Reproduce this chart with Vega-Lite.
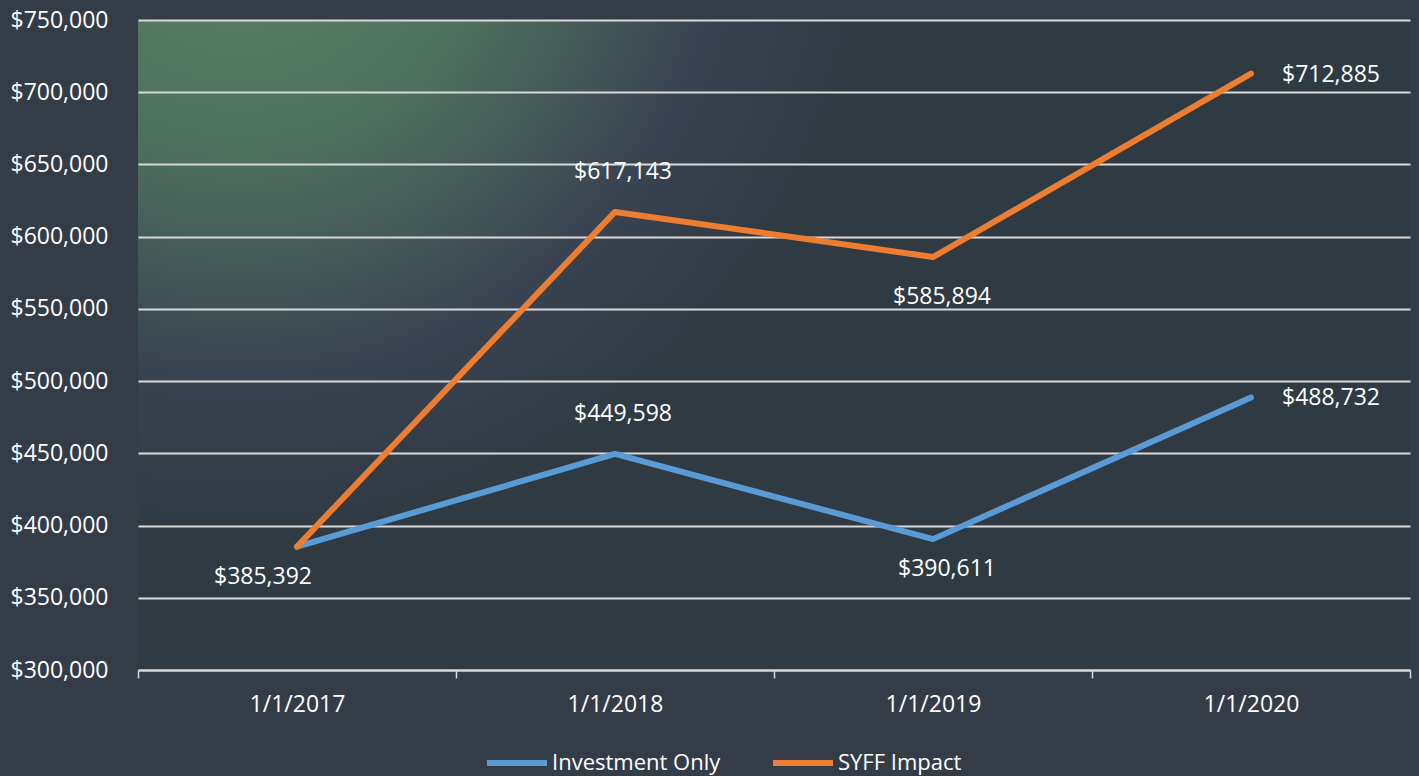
{
  "$schema": "https://vega.github.io/schema/vega-lite/v6.json",
  "width": 1272,
  "height": 650,
  "autosize": {"type": "none"},
  "padding": {"left": 138, "top": 20, "right": 9, "bottom": 106},
  "background": "#343c48",
  "config": {
    "font": "Open Sans",
    "view": {
      "stroke": null,
      "fill": {
        "gradient": "radial",
        "x1": 0.08, "y1": 0.15, "r1": 0,
        "x2": 0.08, "y2": 0.15, "r2": 0.5,
        "stops": [
          {"offset": 0, "color": "#5a8563"},
          {"offset": 0.4, "color": "#4e705f"},
          {"offset": 0.75, "color": "#3a4351"},
          {"offset": 1, "color": "#2f3a43"}
        ]
      }
    }
  },
  "data": {
    "values": [
      {"date": "1/1/2017", "series": "Investment Only", "value": 385392},
      {"date": "1/1/2018", "series": "Investment Only", "value": 449598},
      {"date": "1/1/2019", "series": "Investment Only", "value": 390611},
      {"date": "1/1/2020", "series": "Investment Only", "value": 488732},
      {"date": "1/1/2017", "series": "SYFF Impact", "value": 385392},
      {"date": "1/1/2018", "series": "SYFF Impact", "value": 617143},
      {"date": "1/1/2019", "series": "SYFF Impact", "value": 585894},
      {"date": "1/1/2020", "series": "SYFF Impact", "value": 712885}
    ]
  },
  "encoding": {
    "x": {
      "field": "date",
      "type": "ordinal",
      "bandPosition": 0.5,
      "scale": {"type": "band", "paddingInner": 0, "paddingOuter": 0},
      "axis": {
        "title": null,
        "labelAngle": 0,
        "tickBand": "extent",
        "ticks": true,
        "tickSize": 8,
        "tickColor": "#d9d9d9",
        "tickWidth": 1.5,
        "domainColor": "#d9d9d9",
        "domainWidth": 2,
        "labelColor": "#ffffff",
        "labelFontSize": 23,
        "labelPadding": 15,
        "grid": false
      }
    },
    "y": {
      "field": "value",
      "type": "quantitative",
      "scale": {"domain": [300000, 750000], "nice": false, "zero": false},
      "axis": {
        "title": null,
        "values": [300000, 350000, 400000, 450000, 500000, 550000, 600000, 650000, 700000, 750000],
        "format": "$,.0f",
        "grid": true,
        "gridColor": "#d9d9d9",
        "gridWidth": 2,
        "domain": false,
        "ticks": false,
        "tickSize": 0,
        "labelPadding": 30,
        "labelFontSize": 23,
        "labelColor": "#ffffff"
      }
    }
  },
  "layer": [
    {
      "mark": {"type": "line", "strokeWidth": 6, "strokeCap": "round", "strokeJoin": "round"},
      "encoding": {
        "color": {
          "field": "series",
          "type": "nominal",
          "scale": {"domain": ["Investment Only", "SYFF Impact"], "range": ["#5b9bd5", "#ed7d31"]},
          "legend": {
            "title": null,
            "orient": "none",
            "legendX": 346,
            "legendY": 710,
            "direction": "horizontal",
            "symbolType": "stroke",
            "symbolSize": 3600,
            "symbolStrokeWidth": 6,
            "labelFontSize": 22,
            "labelColor": "#ffffff",
            "labelLimit": 400,
            "labelOffset": 2,
            "columnPadding": 40,
            "padding": 0
          }
        }
      }
    },
    {
      "transform": [{"filter": "datum.date === '1/1/2017' && datum.series === 'SYFF Impact'"}],
      "mark": {"type": "text", "fontSize": 23, "color": "#ffffff", "dx": -34, "dy": 30},
      "encoding": {"text": {"field": "value", "type": "quantitative", "format": "$,.0f"}}
    },
    {
      "transform": [{"filter": "datum.date === '1/1/2018'"}],
      "mark": {"type": "text", "fontSize": 23, "color": "#ffffff", "dx": 8, "dy": -40},
      "encoding": {"text": {"field": "value", "type": "quantitative", "format": "$,.0f"}}
    },
    {
      "transform": [{"filter": "datum.date === '1/1/2019' && datum.series === 'SYFF Impact'"}],
      "mark": {"type": "text", "fontSize": 23, "color": "#ffffff", "dx": 9, "dy": 40},
      "encoding": {"text": {"field": "value", "type": "quantitative", "format": "$,.0f"}}
    },
    {
      "transform": [{"filter": "datum.date === '1/1/2019' && datum.series === 'Investment Only'"}],
      "mark": {"type": "text", "fontSize": 23, "color": "#ffffff", "dx": 14, "dy": 30},
      "encoding": {"text": {"field": "value", "type": "quantitative", "format": "$,.0f"}}
    },
    {
      "transform": [{"filter": "datum.date === '1/1/2020'"}],
      "mark": {"type": "text", "fontSize": 23, "color": "#ffffff", "dx": 80, "dy": 1},
      "encoding": {"text": {"field": "value", "type": "quantitative", "format": "$,.0f"}}
    }
  ]
}
